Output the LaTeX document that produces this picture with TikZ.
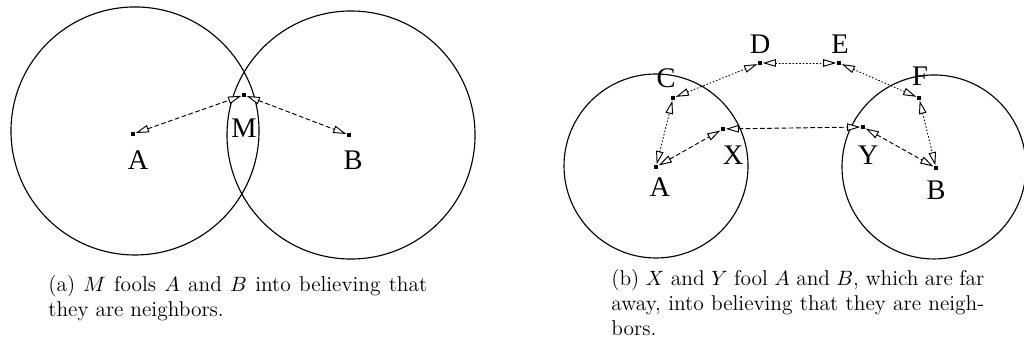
\documentclass[tikz,border=0pt]{standalone}
\usepackage{fontspec}
\newfontfamily\figfont{Liberation Serif}
\usetikzlibrary{arrows.meta}
\tikzset{
  opentri/.tip={Triangle[fill=white,length=7pt,width=4pt]},
  mote/.style={rectangle, fill=black, inner sep=0pt, minimum size=2.4pt},
  radio/.style={line width=0.6pt},
  fakelink/.style={line width=0.5pt, dash pattern=on 2.2pt off 1.6pt, opentri-opentri},
  hoplink/.style={line width=0.5pt, dash pattern=on 0.5pt off 1.3pt, opentri-opentri},
  mlabel/.style={font=\figfont\fontsize{15}{15}\selectfont, inner sep=0pt},
  subcap/.style={anchor=north west, inner sep=0pt, align=justify,
                 font=\fontsize{11.3}{13.3}\selectfont},
}
\begin{document}
\begin{tikzpicture}[x=1cm,y=1cm,line cap=round]
  \useasboundingbox (0,0) rectangle (19,6.531);
  % ---- (a) one attacker in the overlap ----
  \begin{scope}
    \draw[radio] (2.505,4.101) circle[radius=2.301];
    \draw[radio] (6.513,4.026) circle[radius=2.301];
    \node[mote] (A) at (2.468,4.045) {};
    \node[mote] (M) at (4.527,4.769) {};
    \node[mote] (B) at (6.476,4.026) {};
    \node[mlabel] (lA) at (2.561,3.562) {A};
    \node[mlabel] (lM) at (4.527,4.156) {M};
    \node[mlabel] (lB) at (6.550,3.562) {B};
    \draw[fakelink] (A) -- (M);
    \draw[fakelink] (M) -- (B);
    \node[subcap, text width=7.03cm] (capa) at (0.891,1.429)
      {(a) $M$ fools $A$ and $B$ into believing that\linebreak they are neighbors.};
  \end{scope}
  % ---- (b) two colluding attackers, far apart ----
  \begin{scope}[xshift=10cm]
    \draw[radio] (2.172,3.451) circle[radius=1.707];
    \draw[radio] (7.330,3.433) circle[radius=1.707];
    \node[mote] (A) at (2.172,3.433) {};
    \node[mote] (X) at (3.415,4.138) {};
    \node[mote] (Y) at (6.013,4.175) {};
    \node[mote] (B) at (7.367,3.414) {};
    \node[mote] (C) at (2.488,4.713) {};
    \node[mote] (D) at (4.102,5.362) {};
    \node[mote] (E) at (5.568,5.362) {};
    \node[mote] (F) at (7.052,4.713) {};
    \foreach \n/\x/\y in {A/2.246/3.062, X/3.601/3.655, Y/6.106/3.655, B/7.367/3.006,
                          C/2.358/5.084, D/4.102/5.715, E/5.586/5.715, F/7.070/5.121}
      {\node[mlabel] (l\n) at (\x,\y) {\n};}
    % wormhole path
    \draw[fakelink] (A) -- (X);
    \draw[fakelink] (X) -- (Y);
    \draw[fakelink] (Y) -- (B);
    % real multi-hop route
    \foreach \p/\q in {A/C, C/D, D/E, E/F, F/B}
      {\draw[hoplink] (\p) -- (\q);}
    \node[subcap, text width=6.92cm] (capb) at (1.337,1.540)
      {(b) $X$ and $Y$ fool $A$ and $B$, which are far\linebreak away, into believing that they are neigh-\linebreak bors.};
  \end{scope}
\end{tikzpicture}
\end{document}
